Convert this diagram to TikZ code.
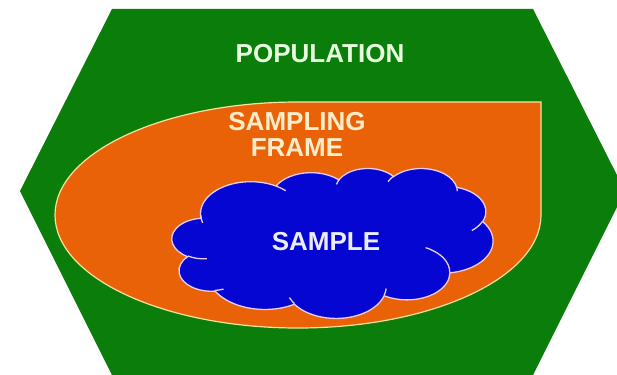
\documentclass[tikz,border=0pt]{standalone}
\usepackage{fontspec}
\setmainfont{Liberation Sans}
\definecolor{popgreen}{RGB}{10,125,10}
\definecolor{frameorange}{RGB}{234,98,8}
\definecolor{sampleblue}{RGB}{6,6,210}
\definecolor{frameedge}{RGB}{245,225,160}
\definecolor{cloudedge}{RGB}{235,205,240}
\definecolor{poptext}{RGB}{232,255,224}
\definecolor{frametext}{RGB}{255,236,200}
\definecolor{sampletext}{RGB}{236,236,255}
\tikzset{
  pparc/.style n args={4}{insert path={arc[start angle={atan2(#1*sin(#3),#2*cos(#3))},
     delta angle={mod(atan2(#1*sin(#3+#4),#2*cos(#3+#4))-atan2(#1*sin(#3),#2*cos(#3))+720,360)},
     x radius=#1, y radius=#2]}},
  labeltext/.style={font=\fontsize{26}{26}\selectfont\bfseries, inner sep=0pt},
  cloudline/.style={draw=cloudedge, line width=1.3pt},
}
\begin{document}
\begin{tikzpicture}[x=1pt,y=-1pt]
\useasboundingbox (0,0) rectangle (617,374);
\clip (0,0) rectangle (617,374);
% population hexagon
\fill[popgreen] (112,9) -- (533,9) -- (625,191) -- (533,375) -- (112,375) -- (20,191) -- cycle;
% sampling frame
\filldraw[fill=frameorange, draw=frameedge, line width=1.2pt]
  (541,102) -- (541,215) arc[start angle=0, end angle=270, x radius=243, y radius=113] -- cycle;
% sample cloud
\begin{scope}[shift={(172pt,-168pt)}, x=0.743pt, y=-0.347pt]
\filldraw[fill=sampleblue, cloudline] (39.00,143.70)
  [pparc={67.53}{91.90}{-190.487}{123.781}]
  [pparc={53.33}{72.67}{-144.102}{89.945}]
  [pparc={43.65}{59.45}{-145.808}{99.723}]
  [pparc={48.57}{65.95}{-130.986}{117.242}]
  [pparc={53.33}{72.73}{-78.709}{109.027}]
  [pparc={67.75}{92.20}{-46.267}{130.269}]
  [pparc={57.85}{78.67}{0.625}{114.033}]
  [pparc={67.52}{92.15}{22.452}{115.173}]
  [pparc={77.20}{105.43}{66.243}{75.711}]
  [pparc={43.60}{59.18}{-274.942}{146.736}]
  [pparc={43.45}{59.45}{-246.829}{152.519}] -- cycle;
\draw[cloudline]
  (46.93,261.77) [pparc={43.45}{59.45}{86.742}{26.430}]
  (69.28,348.99) [pparc={43.60}{59.18}{73.610}{11.447}]
  (164.78,390.90) [pparc={67.52}{92.15}{137.624}{14.081}]
  (288.27,347.51) [pparc={67.52}{92.15}{6.453}{15.998}]
  (341.29,229.54) [pparc={57.85}{78.67}{-70.292}{70.917}]
  (417.98,153.54) [pparc={53.33}{72.73}{30.318}{27.752}]
  (383.24,54.26) [pparc={48.57}{65.95}{-13.744}{14.859}]
  (290.78,39.52) [pparc={48.57}{65.95}{-149.181}{18.196}]
  (221.41,47.20) [pparc={43.65}{59.45}{-163.494}{17.694}]
  (140.00,51.92) [pparc={67.53}{91.90}{-66.707}{12.319}]
  (41.27,157.89) [pparc={67.53}{91.90}{158.333}{18.0}];
\end{scope}
% labels
\node[labeltext, text=poptext, anchor=base] (pop) at (320,63) {POPULATION};
\node[labeltext, text=frametext, align=center, anchor=north] (frame) at (297,112.5) {SAMPLING\\FRAME};
\node[labeltext, text=sampletext, anchor=base] (sample) at (326,250) {SAMPLE};
\end{tikzpicture}
\end{document}
